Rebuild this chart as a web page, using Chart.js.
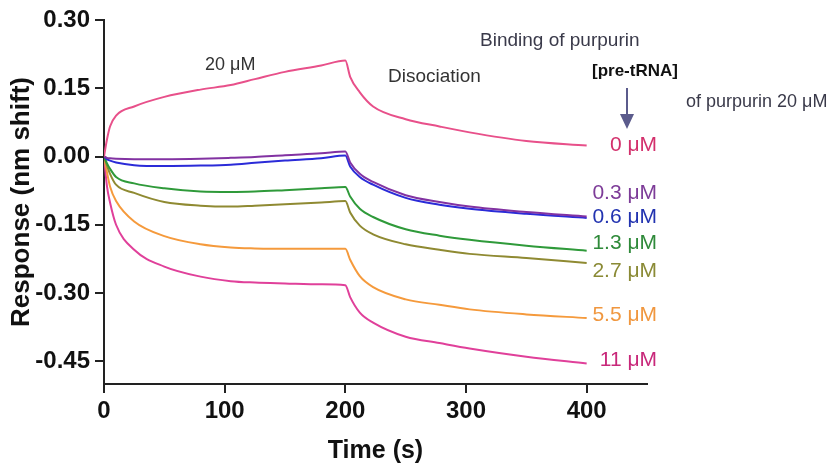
<!DOCTYPE html>
<html lang="en">
<head>
   <meta charset="UTF-8">
   <title>Binding of purpurin</title>
   <script src="https://cdn.jsdelivr.net/npm/chart.js@4.4.1/dist/chart.umd.min.js"></script>
   <style>
      html, body { margin: 0; padding: 0; background: #fff; }
      #wrap { width: 838px; height: 467px; }
   </style>
</head>
<body>
   <div id="wrap"><canvas id="myChart" width="838" height="467"></canvas></div>
   <script>
      // time points (s)
      const tiempos = [0, 2.5, 5, 10, 25, 50, 80, 105, 125, 150, 180, 200, 204, 212, 223, 250, 278, 303, 350, 400];

      // response (nm shift) for each [pre-tRNA]
      const s20  = [0, 0.038, 0.066, 0.090, 0.110, 0.131, 0.147, 0.157, 0.170, 0.186, 0.200, 0.211, 0.175, 0.141, 0.110, 0.082, 0.066, 0.053, 0.034, 0.024];
      const s03  = [0, -0.003, -0.004, -0.005, -0.006, -0.006, -0.005, -0.003, -0.001, 0.003, 0.007, 0.011, -0.013, -0.038, -0.056, -0.085, -0.100, -0.110, -0.122, -0.132];
      const s06  = [0, -0.006, -0.009, -0.013, -0.019, -0.021, -0.020, -0.018, -0.014, -0.009, -0.004, 0.002, -0.022, -0.045, -0.062, -0.091, -0.106, -0.115, -0.126, -0.135];
      const s13  = [0, -0.015, -0.027, -0.045, -0.059, -0.070, -0.077, -0.078, -0.077, -0.074, -0.070, -0.067, -0.088, -0.115, -0.133, -0.160, -0.174, -0.183, -0.196, -0.207];
      const s27  = [0, -0.020, -0.038, -0.062, -0.080, -0.100, -0.108, -0.110, -0.108, -0.105, -0.101, -0.098, -0.123, -0.152, -0.171, -0.193, -0.205, -0.214, -0.223, -0.234];
      const s55  = [0, -0.035, -0.066, -0.098, -0.143, -0.175, -0.193, -0.200, -0.202, -0.203, -0.203, -0.203, -0.227, -0.263, -0.287, -0.314, -0.326, -0.336, -0.347, -0.355];
      const s11  = [0, -0.066, -0.101, -0.150, -0.205, -0.242, -0.264, -0.274, -0.277, -0.279, -0.281, -0.283, -0.309, -0.343, -0.365, -0.396, -0.410, -0.422, -0.440, -0.455];

      const etiquetas = ['0 \u03bcM', '0.3 \u03bcM', '0.6 \u03bcM', '1.3 \u03bcM', '2.7 \u03bcM', '5.5 \u03bcM', '11 \u03bcM'];
      const ticksX = [0, 100, 200, 300, 400];
      const ticksY = [0.30, 0.15, 0.00, -0.15, -0.30, -0.45];

      const series = [s20, s03, s06, s13, s27, s55, s11];
      const colores = ['#e8508a', '#8232a2', '#2b2bd8', '#2f9a3a', '#8f8a32', '#f59a3c', '#e0409a'];
      const coloresTxt = ['#d3306c', '#7d3c98', '#2233b0', '#2f8a3a', '#8a8a35', '#f0973f', '#c8287a'];
      // label centre y (px) at the right of the traces
      const posEtiq = [145, 193, 217, 243, 271, 315, 360];

      const textos = {
         id: 'textos',
         afterDraw(chart) {
            const ctx = chart.ctx;
            ctx.save();
            ctx.textBaseline = 'middle';
            ctx.fillStyle = '#333';
            ctx.textAlign = 'left';
            ctx.font = '18px "Liberation Sans", Arial, sans-serif';
            ctx.fillText('20 \u03bcM', 205, 65);
            ctx.font = '19px "Liberation Sans", Arial, sans-serif';
            ctx.fillText('Disociation', 388, 77);
            ctx.fillStyle = '#3a3a4a';
            ctx.fillText('Binding of purpurin', 480, 41);
            ctx.font = '18px "Liberation Sans", Arial, sans-serif';
            ctx.fillText('of purpurin 20 \u03bcM', 686, 102);
            ctx.fillStyle = '#111';
            ctx.font = 'bold 17px "Liberation Sans", Arial, sans-serif';
            ctx.fillText('[pre-tRNA]', 592, 71);

            // arrow
            ctx.strokeStyle = '#5b5b8c';
            ctx.fillStyle = '#5b5b8c';
            ctx.lineWidth = 2;
            ctx.beginPath();
            ctx.moveTo(627, 88);
            ctx.lineTo(627, 117);
            ctx.stroke();
            ctx.beginPath();
            ctx.moveTo(620, 114);
            ctx.lineTo(634, 114);
            ctx.lineTo(627, 129);
            ctx.closePath();
            ctx.fill();

            ctx.textAlign = 'right';
            ctx.font = '21px "Liberation Sans", Arial, sans-serif';
            etiquetas.forEach((t, i) => {
               ctx.fillStyle = coloresTxt[i];
               ctx.fillText(t, 657, posEtiq[i]);
            });
            ctx.restore();
         }
      };

      const datasets = series.map((s, i) => ({
         label: etiquetas[i],
         data: tiempos.map((t, j) => ({x: t, y: s[j]})),
         borderColor: colores[i],
         backgroundColor: colores[i],
         borderWidth: 2,
         pointRadius: 0,
         cubicInterpolationMode: 'monotone',
         fill: false
      }));

      const config = {
         type: 'line',
         data: { datasets: datasets },
         options: {
            responsive: false,
            animation: false,
            layout: { padding: { top: 20, right: 191, left: 0, bottom: 0 } },
            plugins: {
               legend: { display: false },
               tooltip: { enabled: false },
               title: { display: false }
            },
            scales: {
               x: {
                  type: 'linear',
                  min: 0,
                  max: 450,
                  afterBuildTicks: (scale) => { scale.ticks = ticksX.map(v => ({value: v})); },
                  afterFit: (scale) => { scale.height = 83; },
                  border: { display: true, color: '#222', width: 2 },
                  grid: { drawOnChartArea: false, drawTicks: true, tickLength: 9, color: '#222', lineWidth: 2 },
                  ticks: {
                     color: '#111',
                     padding: 4,
                     maxRotation: 0,
                     font: { family: '"Liberation Sans", Arial, sans-serif', size: 24, weight: 'bold' }
                  },
                  title: {
                     display: true,
                     text: 'Time (s)',
                     color: '#111',
                     padding: { top: 0, bottom: 1 },
                     font: { family: '"Liberation Sans", Arial, sans-serif', size: 25, weight: 'bold' }
                  }
               },
               y: {
                  min: -0.5,
                  max: 0.3,
                  afterBuildTicks: (scale) => { scale.ticks = ticksY.map(v => ({value: v})); },
                  afterFit: (scale) => { scale.width = 104; },
                  border: { display: true, color: '#222', width: 2 },
                  grid: { drawOnChartArea: false, drawTicks: true, tickLength: 9, color: '#222', lineWidth: 2 },
                  ticks: {
                     color: '#111',
                     padding: 5,
                     callback: (v) => Number(v).toFixed(2),
                     font: { family: '"Liberation Sans", Arial, sans-serif', size: 24, weight: 'bold' }
                  },
                  title: {
                     display: true,
                     text: 'Response (nm shift)',
                     color: '#111',
                     padding: { top: 6, bottom: 0 },
                     font: { family: '"Liberation Sans", Arial, sans-serif', size: 26, weight: 'bold' }
                  }
               }
            }
         },
         plugins: [textos]
      };

      const myChart = new Chart(document.getElementById('myChart'), config);
   </script>
</body>
</html>
